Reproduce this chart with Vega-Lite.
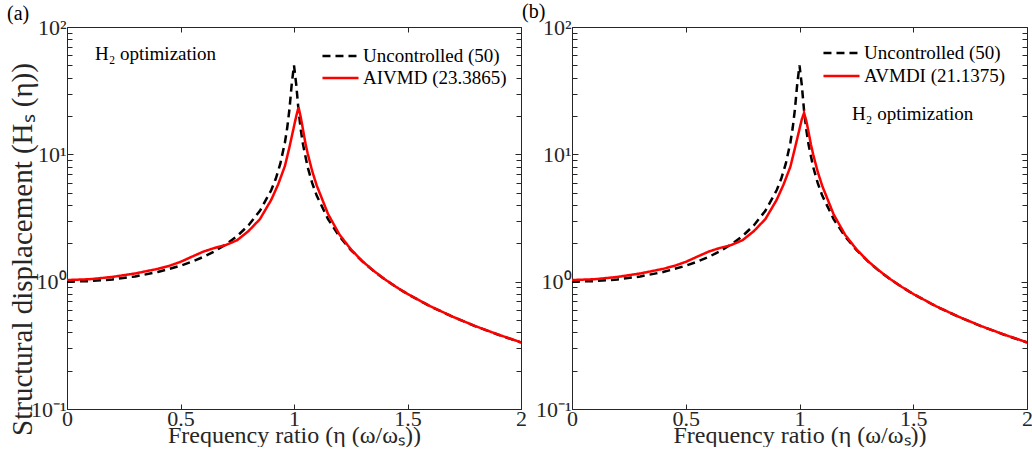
{
  "$schema": "https://vega.github.io/schema/vega-lite/v6.json",
  "padding": {"left": 7, "top": 2, "right": 0, "bottom": 0},
  "background": "white",
  "config": {
    "font": "Liberation Serif",
    "view": {"stroke": null},
    "axis": {"grid": false, "domainColor": "#262626", "domainWidth": 1, "tickColor": "#262626", "tickWidth": 1, "labelColor": "#262626", "titleColor": "#262626", "labelFont": "Liberation Serif", "titleFont": "Liberation Serif", "labelFontSize": 22, "titleFontSize": 24, "titleFontWeight": "normal", "labelOverlap": false, "labelFlush": false, "labelBound": false},
    "legend": {"labelFont": "Liberation Serif", "labelFontSize": 19, "labelColor": "#000000"}
  },
  "hconcat": [
    {
      "width": 454, "height": 382,
      "title": {"text": "(a)", "anchor": "start", "frame": "group", "dx": -60, "offset": -8, "fontSize": 20, "font": "Liberation Serif", "fontWeight": "normal", "color": "#000000"},
      "data": {"values": [
        {"eta": 0, "H": 1.0, "series": "Uncontrolled (50)"},
        {"eta": 0.1, "H": 1.0101, "series": "Uncontrolled (50)"},
        {"eta": 0.2, "H": 1.0417, "series": "Uncontrolled (50)"},
        {"eta": 0.3, "H": 1.0989, "series": "Uncontrolled (50)"},
        {"eta": 0.4, "H": 1.1905, "series": "Uncontrolled (50)"},
        {"eta": 0.5, "H": 1.3333, "series": "Uncontrolled (50)"},
        {"eta": 0.55, "H": 1.4337, "series": "Uncontrolled (50)"},
        {"eta": 0.6, "H": 1.5625, "series": "Uncontrolled (50)"},
        {"eta": 0.65, "H": 1.7316, "series": "Uncontrolled (50)"},
        {"eta": 0.7, "H": 1.9608, "series": "Uncontrolled (50)"},
        {"eta": 0.75, "H": 2.2857, "series": "Uncontrolled (50)"},
        {"eta": 0.8, "H": 2.7778, "series": "Uncontrolled (50)"},
        {"eta": 0.85, "H": 3.6036, "series": "Uncontrolled (50)"},
        {"eta": 0.9, "H": 5.24, "series": "Uncontrolled (50)"},
        {"eta": 0.92, "H": 6.46, "series": "Uncontrolled (50)"},
        {"eta": 0.94, "H": 8.48, "series": "Uncontrolled (50)"},
        {"eta": 0.96, "H": 12.39, "series": "Uncontrolled (50)"},
        {"eta": 0.97, "H": 16.08, "series": "Uncontrolled (50)"},
        {"eta": 0.98, "H": 22.63, "series": "Uncontrolled (50)"},
        {"eta": 0.99, "H": 35.6, "series": "Uncontrolled (50)"},
        {"eta": 1.0, "H": 50, "series": "Uncontrolled (50)"},
        {"eta": 1.01, "H": 35.1, "series": "Uncontrolled (50)"},
        {"eta": 1.02, "H": 22.1, "series": "Uncontrolled (50)"},
        {"eta": 1.03, "H": 15.55, "series": "Uncontrolled (50)"},
        {"eta": 1.04, "H": 11.87, "series": "Uncontrolled (50)"},
        {"eta": 1.06, "H": 7.97, "series": "Uncontrolled (50)"},
        {"eta": 1.08, "H": 5.96, "series": "Uncontrolled (50)"},
        {"eta": 1.1, "H": 4.74, "series": "Uncontrolled (50)"},
        {"eta": 1.15, "H": 3.1, "series": "Uncontrolled (50)"},
        {"eta": 1.2, "H": 2.27, "series": "Uncontrolled (50)"},
        {"eta": 1.25, "H": 1.778, "series": "Uncontrolled (50)"},
        {"eta": 1.3, "H": 1.449, "series": "Uncontrolled (50)"},
        {"eta": 1.35, "H": 1.216, "series": "Uncontrolled (50)"},
        {"eta": 1.4, "H": 1.042, "series": "Uncontrolled (50)"},
        {"eta": 1.45, "H": 0.907, "series": "Uncontrolled (50)"},
        {"eta": 1.5, "H": 0.8, "series": "Uncontrolled (50)"},
        {"eta": 1.6, "H": 0.641, "series": "Uncontrolled (50)"},
        {"eta": 1.7, "H": 0.529, "series": "Uncontrolled (50)"},
        {"eta": 1.8, "H": 0.446, "series": "Uncontrolled (50)"},
        {"eta": 1.9, "H": 0.383, "series": "Uncontrolled (50)"},
        {"eta": 2.0, "H": 0.333, "series": "Uncontrolled (50)"},
        {"eta": 0, "H": 1.03, "series": "AIVMD (23.3865)"},
        {"eta": 0.1, "H": 1.045, "series": "AIVMD (23.3865)"},
        {"eta": 0.2, "H": 1.09, "series": "AIVMD (23.3865)"},
        {"eta": 0.3, "H": 1.16, "series": "AIVMD (23.3865)"},
        {"eta": 0.4, "H": 1.26, "series": "AIVMD (23.3865)"},
        {"eta": 0.45, "H": 1.33, "series": "AIVMD (23.3865)"},
        {"eta": 0.5, "H": 1.43, "series": "AIVMD (23.3865)"},
        {"eta": 0.55, "H": 1.57, "series": "AIVMD (23.3865)"},
        {"eta": 0.6, "H": 1.72, "series": "AIVMD (23.3865)"},
        {"eta": 0.65, "H": 1.84, "series": "AIVMD (23.3865)"},
        {"eta": 0.7, "H": 1.94, "series": "AIVMD (23.3865)"},
        {"eta": 0.75, "H": 2.12, "series": "AIVMD (23.3865)"},
        {"eta": 0.8, "H": 2.5, "series": "AIVMD (23.3865)"},
        {"eta": 0.85, "H": 3.1, "series": "AIVMD (23.3865)"},
        {"eta": 0.9, "H": 4.4, "series": "AIVMD (23.3865)"},
        {"eta": 0.93, "H": 5.8, "series": "AIVMD (23.3865)"},
        {"eta": 0.96, "H": 8.1, "series": "AIVMD (23.3865)"},
        {"eta": 0.98, "H": 11.4, "series": "AIVMD (23.3865)"},
        {"eta": 1.0, "H": 16.6, "series": "AIVMD (23.3865)"},
        {"eta": 1.01, "H": 20.0, "series": "AIVMD (23.3865)"},
        {"eta": 1.02, "H": 23.39, "series": "AIVMD (23.3865)"},
        {"eta": 1.03, "H": 19.5, "series": "AIVMD (23.3865)"},
        {"eta": 1.04, "H": 15.5, "series": "AIVMD (23.3865)"},
        {"eta": 1.05, "H": 12.3, "series": "AIVMD (23.3865)"},
        {"eta": 1.06, "H": 10.2, "series": "AIVMD (23.3865)"},
        {"eta": 1.08, "H": 7.4, "series": "AIVMD (23.3865)"},
        {"eta": 1.1, "H": 5.7, "series": "AIVMD (23.3865)"},
        {"eta": 1.15, "H": 3.4, "series": "AIVMD (23.3865)"},
        {"eta": 1.2, "H": 2.35, "series": "AIVMD (23.3865)"},
        {"eta": 1.25, "H": 1.8, "series": "AIVMD (23.3865)"},
        {"eta": 1.3, "H": 1.455, "series": "AIVMD (23.3865)"},
        {"eta": 1.35, "H": 1.22, "series": "AIVMD (23.3865)"},
        {"eta": 1.4, "H": 1.045, "series": "AIVMD (23.3865)"},
        {"eta": 1.45, "H": 0.909, "series": "AIVMD (23.3865)"},
        {"eta": 1.5, "H": 0.801, "series": "AIVMD (23.3865)"},
        {"eta": 1.6, "H": 0.642, "series": "AIVMD (23.3865)"},
        {"eta": 1.7, "H": 0.53, "series": "AIVMD (23.3865)"},
        {"eta": 1.8, "H": 0.447, "series": "AIVMD (23.3865)"},
        {"eta": 1.9, "H": 0.384, "series": "AIVMD (23.3865)"},
        {"eta": 2.0, "H": 0.334, "series": "AIVMD (23.3865)"}
      ]},
      "resolve": {"axis": {"x": "independent", "y": "independent"}},
      "layer": [
        {
          "transform": [{"filter": "datum.series == 'Uncontrolled (50)'"}],
          "mark": {"type": "line", "strokeWidth": 2.5},
          "encoding": {
            "x": {"field": "eta", "type": "quantitative", "scale": {"domain": [0, 2], "nice": false},
              "axis": {"orient": "bottom", "values": [0, 0.5, 1, 1.5, 2], "format": "~g", "tickSize": -5, "labelPadding": 4, "title": "Frequency ratio (η (ω/ωₛ))", "titlePadding": -6}},
            "y": {"field": "H", "type": "quantitative", "scale": {"type": "log", "domain": [0.1, 100], "nice": false},
              "axis": {"orient": "left", "values": [0.1,0.2,0.3,0.4,0.5,0.6,0.7,0.8,0.9,1,2,3,4,5,6,7,8,9,10,20,30,40,50,60,70,80,90,100],
                "labelExpr": "datum.value==100?'10²':datum.value==10?'10¹':datum.value==1?'10⁰':datum.value==0.1?'10⁻¹':''",
                "tickSize": {"condition": {"test": "datum.value==0.1||datum.value==1||datum.value==10||datum.value==100", "value": -6}, "value": -5},
                "labelPadding": 7, "title": "Structural displacement (Hₛ (η))", "titleFontSize": 29, "titleY": 222, "titlePadding": -7}},
            "color": {"field": "series", "type": "nominal", "scale": {"domain": ["Uncontrolled (50)", "AIVMD (23.3865)"], "range": ["#000000", "#ff0000"]},
              "legend": {"orient": "none", "legendX": 254, "legendY": 19, "title": null, "symbolType": "stroke", "symbolSize": 1300, "symbolStrokeWidth": 2.5, "clipHeight": 20, "rowPadding": 2, "labelOffset": 3}},
            "strokeDash": {"field": "series", "type": "nominal", "scale": {"domain": ["Uncontrolled (50)", "AIVMD (23.3865)"], "range": [[8, 5], [1, 0]]},
              "legend": {"orient": "none", "legendX": 254, "legendY": 19, "title": null, "symbolType": "stroke", "symbolSize": 1300, "symbolStrokeWidth": 2.5, "clipHeight": 20, "rowPadding": 2, "labelOffset": 3}}
          }
        },
        {
          "transform": [{"filter": "datum.series == 'AIVMD (23.3865)'"}],
          "mark": {"type": "line", "strokeWidth": 2.5},
          "encoding": {
            "x": {"field": "eta", "type": "quantitative", "scale": {"domain": [0, 2], "nice": false},
              "axis": {"orient": "top", "values": [0, 0.5, 1, 1.5, 2], "tickSize": -5, "labels": false, "title": null}},
            "y": {"field": "H", "type": "quantitative", "scale": {"type": "log", "domain": [0.1, 100], "nice": false},
              "axis": {"orient": "right", "values": [0.1,0.2,0.3,0.4,0.5,0.6,0.7,0.8,0.9,1,2,3,4,5,6,7,8,9,10,20,30,40,50,60,70,80,90,100], "labels": false, "title": null,
                "tickSize": {"condition": {"test": "datum.value==0.1||datum.value==1||datum.value==10||datum.value==100", "value": -6}, "value": -5}}},
            "color": {"field": "series", "type": "nominal"},
            "strokeDash": {"field": "series", "type": "nominal"}
          }
        },
        {
          "data": {"values": [{"eta": 0.123, "H": 55, "label": "H₂ optimization"}]},
          "mark": {"type": "text", "align": "left", "baseline": "alphabetic", "fontSize": 19, "font": "Liberation Serif", "color": "#000000"},
          "encoding": {
            "x": {"field": "eta", "type": "quantitative", "axis": null},
            "y": {"field": "H", "type": "quantitative", "axis": null},
            "text": {"field": "label"}
          }
        }
      ]
    },
    {
      "width": 455, "height": 382,
      "title": {"text": "(b)", "anchor": "start", "frame": "group", "dx": -50, "offset": -6, "fontSize": 20, "font": "Liberation Serif", "fontWeight": "normal", "color": "#000000"},
      "data": {"values": [
        {"eta": 0, "H": 1.0, "series": "Uncontrolled (50)"},
        {"eta": 0.1, "H": 1.0101, "series": "Uncontrolled (50)"},
        {"eta": 0.2, "H": 1.0417, "series": "Uncontrolled (50)"},
        {"eta": 0.3, "H": 1.0989, "series": "Uncontrolled (50)"},
        {"eta": 0.4, "H": 1.1905, "series": "Uncontrolled (50)"},
        {"eta": 0.5, "H": 1.3333, "series": "Uncontrolled (50)"},
        {"eta": 0.55, "H": 1.4337, "series": "Uncontrolled (50)"},
        {"eta": 0.6, "H": 1.5625, "series": "Uncontrolled (50)"},
        {"eta": 0.65, "H": 1.7316, "series": "Uncontrolled (50)"},
        {"eta": 0.7, "H": 1.9608, "series": "Uncontrolled (50)"},
        {"eta": 0.75, "H": 2.2857, "series": "Uncontrolled (50)"},
        {"eta": 0.8, "H": 2.7778, "series": "Uncontrolled (50)"},
        {"eta": 0.85, "H": 3.6036, "series": "Uncontrolled (50)"},
        {"eta": 0.9, "H": 5.24, "series": "Uncontrolled (50)"},
        {"eta": 0.92, "H": 6.46, "series": "Uncontrolled (50)"},
        {"eta": 0.94, "H": 8.48, "series": "Uncontrolled (50)"},
        {"eta": 0.96, "H": 12.39, "series": "Uncontrolled (50)"},
        {"eta": 0.97, "H": 16.08, "series": "Uncontrolled (50)"},
        {"eta": 0.98, "H": 22.63, "series": "Uncontrolled (50)"},
        {"eta": 0.99, "H": 35.6, "series": "Uncontrolled (50)"},
        {"eta": 1.0, "H": 50, "series": "Uncontrolled (50)"},
        {"eta": 1.01, "H": 35.1, "series": "Uncontrolled (50)"},
        {"eta": 1.02, "H": 22.1, "series": "Uncontrolled (50)"},
        {"eta": 1.03, "H": 15.55, "series": "Uncontrolled (50)"},
        {"eta": 1.04, "H": 11.87, "series": "Uncontrolled (50)"},
        {"eta": 1.06, "H": 7.97, "series": "Uncontrolled (50)"},
        {"eta": 1.08, "H": 5.96, "series": "Uncontrolled (50)"},
        {"eta": 1.1, "H": 4.74, "series": "Uncontrolled (50)"},
        {"eta": 1.15, "H": 3.1, "series": "Uncontrolled (50)"},
        {"eta": 1.2, "H": 2.27, "series": "Uncontrolled (50)"},
        {"eta": 1.25, "H": 1.778, "series": "Uncontrolled (50)"},
        {"eta": 1.3, "H": 1.449, "series": "Uncontrolled (50)"},
        {"eta": 1.35, "H": 1.216, "series": "Uncontrolled (50)"},
        {"eta": 1.4, "H": 1.042, "series": "Uncontrolled (50)"},
        {"eta": 1.45, "H": 0.907, "series": "Uncontrolled (50)"},
        {"eta": 1.5, "H": 0.8, "series": "Uncontrolled (50)"},
        {"eta": 1.6, "H": 0.641, "series": "Uncontrolled (50)"},
        {"eta": 1.7, "H": 0.529, "series": "Uncontrolled (50)"},
        {"eta": 1.8, "H": 0.446, "series": "Uncontrolled (50)"},
        {"eta": 1.9, "H": 0.383, "series": "Uncontrolled (50)"},
        {"eta": 2.0, "H": 0.333, "series": "Uncontrolled (50)"},
        {"eta": 0, "H": 1.03, "series": "AVMDI (21.1375)"},
        {"eta": 0.1, "H": 1.045, "series": "AVMDI (21.1375)"},
        {"eta": 0.2, "H": 1.09, "series": "AVMDI (21.1375)"},
        {"eta": 0.3, "H": 1.16, "series": "AVMDI (21.1375)"},
        {"eta": 0.4, "H": 1.26, "series": "AVMDI (21.1375)"},
        {"eta": 0.45, "H": 1.33, "series": "AVMDI (21.1375)"},
        {"eta": 0.5, "H": 1.43, "series": "AVMDI (21.1375)"},
        {"eta": 0.55, "H": 1.57, "series": "AVMDI (21.1375)"},
        {"eta": 0.6, "H": 1.72, "series": "AVMDI (21.1375)"},
        {"eta": 0.65, "H": 1.84, "series": "AVMDI (21.1375)"},
        {"eta": 0.7, "H": 1.94, "series": "AVMDI (21.1375)"},
        {"eta": 0.75, "H": 2.12, "series": "AVMDI (21.1375)"},
        {"eta": 0.8, "H": 2.5, "series": "AVMDI (21.1375)"},
        {"eta": 0.85, "H": 3.1, "series": "AVMDI (21.1375)"},
        {"eta": 0.9, "H": 4.4, "series": "AVMDI (21.1375)"},
        {"eta": 0.93, "H": 5.8, "series": "AVMDI (21.1375)"},
        {"eta": 0.96, "H": 8.0, "series": "AVMDI (21.1375)"},
        {"eta": 0.98, "H": 11.2, "series": "AVMDI (21.1375)"},
        {"eta": 1.0, "H": 15.8, "series": "AVMDI (21.1375)"},
        {"eta": 1.01, "H": 18.8, "series": "AVMDI (21.1375)"},
        {"eta": 1.02, "H": 21.14, "series": "AVMDI (21.1375)"},
        {"eta": 1.03, "H": 18.3, "series": "AVMDI (21.1375)"},
        {"eta": 1.04, "H": 14.9, "series": "AVMDI (21.1375)"},
        {"eta": 1.05, "H": 12.0, "series": "AVMDI (21.1375)"},
        {"eta": 1.06, "H": 10.0, "series": "AVMDI (21.1375)"},
        {"eta": 1.08, "H": 7.3, "series": "AVMDI (21.1375)"},
        {"eta": 1.1, "H": 5.65, "series": "AVMDI (21.1375)"},
        {"eta": 1.15, "H": 3.38, "series": "AVMDI (21.1375)"},
        {"eta": 1.2, "H": 2.34, "series": "AVMDI (21.1375)"},
        {"eta": 1.25, "H": 1.8, "series": "AVMDI (21.1375)"},
        {"eta": 1.3, "H": 1.455, "series": "AVMDI (21.1375)"},
        {"eta": 1.35, "H": 1.22, "series": "AVMDI (21.1375)"},
        {"eta": 1.4, "H": 1.045, "series": "AVMDI (21.1375)"},
        {"eta": 1.45, "H": 0.909, "series": "AVMDI (21.1375)"},
        {"eta": 1.5, "H": 0.801, "series": "AVMDI (21.1375)"},
        {"eta": 1.6, "H": 0.642, "series": "AVMDI (21.1375)"},
        {"eta": 1.7, "H": 0.53, "series": "AVMDI (21.1375)"},
        {"eta": 1.8, "H": 0.447, "series": "AVMDI (21.1375)"},
        {"eta": 1.9, "H": 0.384, "series": "AVMDI (21.1375)"},
        {"eta": 2.0, "H": 0.334, "series": "AVMDI (21.1375)"}
      ]},
      "resolve": {"axis": {"x": "independent", "y": "independent"}},
      "layer": [
        {
          "transform": [{"filter": "datum.series == 'Uncontrolled (50)'"}],
          "mark": {"type": "line", "strokeWidth": 2.5},
          "encoding": {
            "x": {"field": "eta", "type": "quantitative", "scale": {"domain": [0, 2], "nice": false},
              "axis": {"orient": "bottom", "values": [0, 0.5, 1, 1.5, 2], "format": "~g", "tickSize": -5, "labelPadding": 4, "title": "Frequency ratio (η (ω/ωₛ))", "titlePadding": -6}},
            "y": {"field": "H", "type": "quantitative", "scale": {"type": "log", "domain": [0.1, 100], "nice": false},
              "axis": {"orient": "left", "values": [0.1,0.2,0.3,0.4,0.5,0.6,0.7,0.8,0.9,1,2,3,4,5,6,7,8,9,10,20,30,40,50,60,70,80,90,100],
                "labelExpr": "datum.value==100?'10²':datum.value==10?'10¹':datum.value==1?'10⁰':datum.value==0.1?'10⁻¹':''",
                "tickSize": {"condition": {"test": "datum.value==0.1||datum.value==1||datum.value==10||datum.value==100", "value": -6}, "value": -5},
                "labelPadding": 7, "title": null}},
            "color": {"field": "series", "type": "nominal", "scale": {"domain": ["Uncontrolled (50)", "AVMDI (21.1375)"], "range": ["#000000", "#ff0000"]},
              "legend": {"orient": "none", "legendX": 250, "legendY": 16, "title": null, "symbolType": "stroke", "symbolSize": 1300, "symbolStrokeWidth": 2.5, "clipHeight": 20, "rowPadding": 3, "labelOffset": 3}},
            "strokeDash": {"field": "series", "type": "nominal", "scale": {"domain": ["Uncontrolled (50)", "AVMDI (21.1375)"], "range": [[8, 5], [1, 0]]},
              "legend": {"orient": "none", "legendX": 250, "legendY": 16, "title": null, "symbolType": "stroke", "symbolSize": 1300, "symbolStrokeWidth": 2.5, "clipHeight": 20, "rowPadding": 3, "labelOffset": 3}}
          }
        },
        {
          "transform": [{"filter": "datum.series == 'AVMDI (21.1375)'"}],
          "mark": {"type": "line", "strokeWidth": 2.5},
          "encoding": {
            "x": {"field": "eta", "type": "quantitative", "scale": {"domain": [0, 2], "nice": false},
              "axis": {"orient": "top", "values": [0, 0.5, 1, 1.5, 2], "tickSize": -5, "labels": false, "title": null}},
            "y": {"field": "H", "type": "quantitative", "scale": {"type": "log", "domain": [0.1, 100], "nice": false},
              "axis": {"orient": "right", "values": [0.1,0.2,0.3,0.4,0.5,0.6,0.7,0.8,0.9,1,2,3,4,5,6,7,8,9,10,20,30,40,50,60,70,80,90,100], "labels": false, "title": null,
                "tickSize": {"condition": {"test": "datum.value==0.1||datum.value==1||datum.value==10||datum.value==100", "value": -6}, "value": -5}}},
            "color": {"field": "series", "type": "nominal"},
            "strokeDash": {"field": "series", "type": "nominal"}
          }
        },
        {
          "data": {"values": [{"eta": 1.231, "H": 18.5, "label": "H₂ optimization"}]},
          "mark": {"type": "text", "align": "left", "baseline": "alphabetic", "fontSize": 19, "font": "Liberation Serif", "color": "#000000"},
          "encoding": {
            "x": {"field": "eta", "type": "quantitative", "axis": null},
            "y": {"field": "H", "type": "quantitative", "axis": null},
            "text": {"field": "label"}
          }
        }
      ]
    }
  ],
  "spacing": 51,
  "bounds": "flush",
  "resolve": {"scale": {"color": "independent", "strokeDash": "independent"}, "legend": {"color": "independent", "strokeDash": "independent"}}
}
